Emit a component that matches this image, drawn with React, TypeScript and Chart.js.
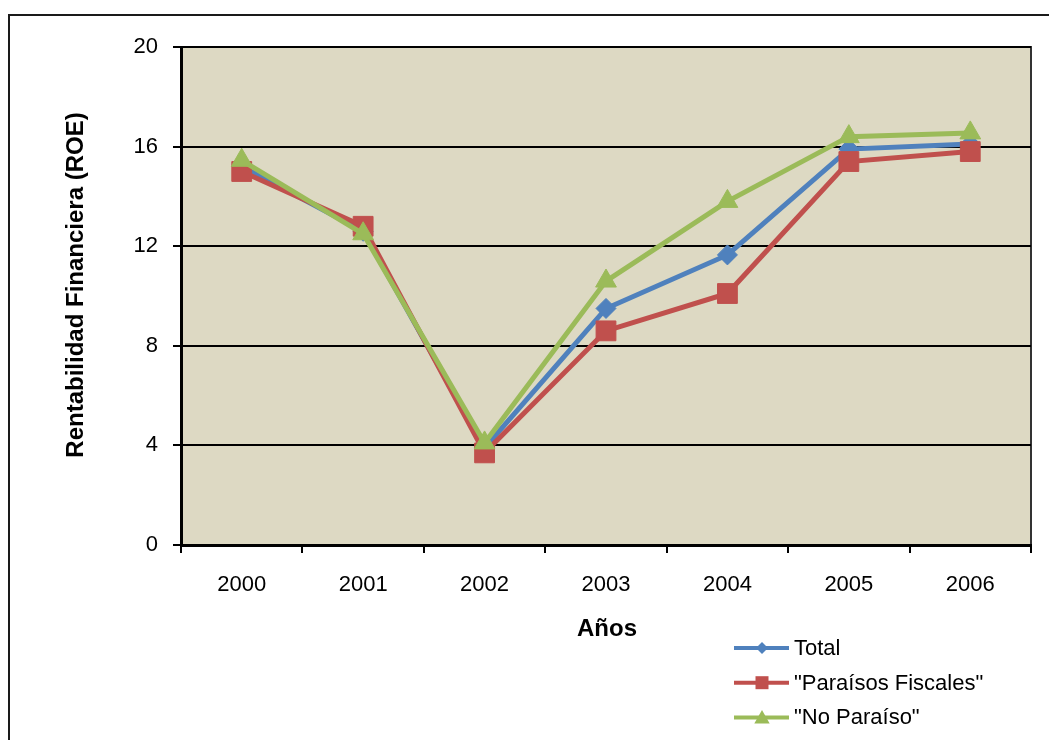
import { useEffect, useRef } from "react";
import { Chart, registerables } from "chart.js";

Chart.register(...registerables);

// Return on equity by year
const years = ["2000", "2001", "2002", "2003", "2004", "2005", "2006"];
const totalRoe = [15.2, 12.6, 3.9, 9.5, 11.65, 15.9, 16.1];
const paraisosRoe = [15.0, 12.8, 3.7, 8.6, 10.1, 15.4, 15.8];
const noParaisoRoe = [15.45, 12.5, 4.1, 10.6, 13.8, 16.4, 16.55];

const seriesNames = ["Total", "\"Paraísos Fiscales\"", "\"No Paraíso\""];
const seriesColors = ["#4F81BD", "#C0504D", "#9BBB59"];
const seriesMarkers = ["rectRot", "rect", "triangle"];

const yMin = 0;
const yMax = 20;
const yStep = 4;

const xTitle = "Años";
const yTitle = "Rentabilidad Financiera (ROE)";

const FONT = "'Liberation Sans', Arial, sans-serif";
const PLOT_BG = "#DDD9C3";

function drawMarker(ctx: CanvasRenderingContext2D, style: string, x: number, y: number, size: number, color: string) {
  ctx.save();
  ctx.fillStyle = color;
  ctx.beginPath();
  if (style === "rect") {
    ctx.rect(x - size, y - size, size * 2, size * 2);
  } else if (style === "rectRot") {
    ctx.moveTo(x - size, y);
    ctx.lineTo(x, y - size);
    ctx.lineTo(x + size, y);
    ctx.lineTo(x, y + size);
    ctx.closePath();
  } else {
    const h = size * 1.9;
    ctx.moveTo(x, y - h * 0.55);
    ctx.lineTo(x + size * 1.1, y + h * 0.45);
    ctx.lineTo(x - size * 1.1, y + h * 0.45);
    ctx.closePath();
  }
  ctx.fill();
  ctx.restore();
}

const decorPlugin = {
  id: "decor",
  beforeDraw(chart: any) {
    const { ctx, chartArea: a, width, height } = chart;
    ctx.save();
    ctx.fillStyle = "#FFFFFF";
    ctx.fillRect(0, 0, width, height);
    // outer chart frame
    ctx.strokeStyle = "#1A1A1A";
    ctx.lineWidth = 2;
    ctx.beginPath();
    ctx.moveTo(width + 2, 15);
    ctx.lineTo(9, 15);
    ctx.lineTo(9, height + 2);
    ctx.stroke();
    // plot area
    ctx.fillStyle = PLOT_BG;
    ctx.fillRect(a.left, a.top, a.right - a.left, a.bottom - a.top);
    ctx.strokeStyle = "#333333";
    ctx.lineWidth = 2;
    ctx.strokeRect(a.left, a.top, a.right - a.left, a.bottom - a.top);
    ctx.restore();
  },
  afterDraw(chart: any) {
    const { ctx, chartArea: a } = chart;
    ctx.save();
    ctx.fillStyle = "#000000";
    ctx.textAlign = "center";
    ctx.textBaseline = "middle";
    ctx.font = `bold 24px ${FONT}`;
    ctx.fillText(xTitle, (a.left + a.right) / 2 + 1, 629);
    ctx.translate(76, 285);
    ctx.rotate(-Math.PI / 2);
    ctx.fillText(yTitle, 0, 0);
    ctx.restore();

    // legend
    ctx.save();
    chart.data.datasets.forEach((ds: any, i: number) => {
      const y = 648 + i * 34.7;
      ctx.strokeStyle = ds.borderColor;
      ctx.lineWidth = 4;
      ctx.beginPath();
      ctx.moveTo(734, y);
      ctx.lineTo(789, y);
      ctx.stroke();
      const sz = ds.pointStyle === "rect" ? 6.5 : ds.pointStyle === "rectRot" ? 6 : 7;
      drawMarker(ctx, ds.pointStyle, 762, y, sz, ds.borderColor);
      ctx.fillStyle = "#000000";
      ctx.font = `22px ${FONT}`;
      ctx.textAlign = "left";
      ctx.textBaseline = "middle";
      ctx.fillText(ds.label, 794, y + 1);
    });
    ctx.restore();
  },
};

export default function App() {
  const canvasRef = useRef<HTMLCanvasElement | null>(null);

  useEffect(() => {
    if (!canvasRef.current) return;
    const values = [totalRoe, paraisosRoe, noParaisoRoe];
    const radii = [10, 14, 12];
    const chart = new Chart(canvasRef.current, {
      type: "line",
      data: {
        labels: years,
        datasets: values.map((v, i) => ({
          label: seriesNames[i],
          data: v,
          borderColor: seriesColors[i],
          backgroundColor: seriesColors[i],
          borderWidth: 5,
          pointStyle: seriesMarkers[i] as any,
          pointRadius: radii[i],
          pointBorderWidth: 1,
          pointBackgroundColor: seriesColors[i],
          pointBorderColor: seriesColors[i],
          tension: 0,
          order: 2 - i,
        })),
      },
      options: {
        responsive: false,
        animation: false,
        events: [],
        layout: { padding: { left: 0, top: 47, right: 18, bottom: 0 } },
        plugins: {
          legend: { display: false },
          tooltip: { enabled: false },
          title: { display: false },
        },
        scales: {
          x: {
            type: "category",
            offset: true,
            grid: {
              offset: true,
              drawOnChartArea: false,
              drawTicks: true,
              tickLength: 8,
              color: "#000000",
              lineWidth: 2,
            },
            border: { display: true, color: "#000000", width: 3 },
            ticks: {
              color: "#000000",
              font: { family: FONT, size: 22 },
              padding: 19,
              maxRotation: 0,
            },
            afterFit: (s: any) => {
              s.height = 195;
            },
          },
          y: {
            min: yMin,
            max: yMax,
            grid: {
              color: "#000000",
              lineWidth: 2,
              tickLength: 8,
              tickColor: "#000000",
              tickWidth: 2,
            },
            border: { display: true, color: "#000000", width: 3 },
            ticks: {
              stepSize: yStep,
              color: "#000000",
              font: { family: FONT, size: 22 },
              padding: 15,
            },
            afterFit: (s: any) => {
              s.width = 181;
            },
          },
        },
      },
      plugins: [decorPlugin],
    });
    return () => chart.destroy();
  }, []);

  return (
    <div style={{ position: "fixed", left: 0, top: 0, width: 1049, height: 740, background: "#fff" }}>
      <canvas ref={canvasRef} width={1049} height={740} style={{ display: "block" }} />
    </div>
  );
}
